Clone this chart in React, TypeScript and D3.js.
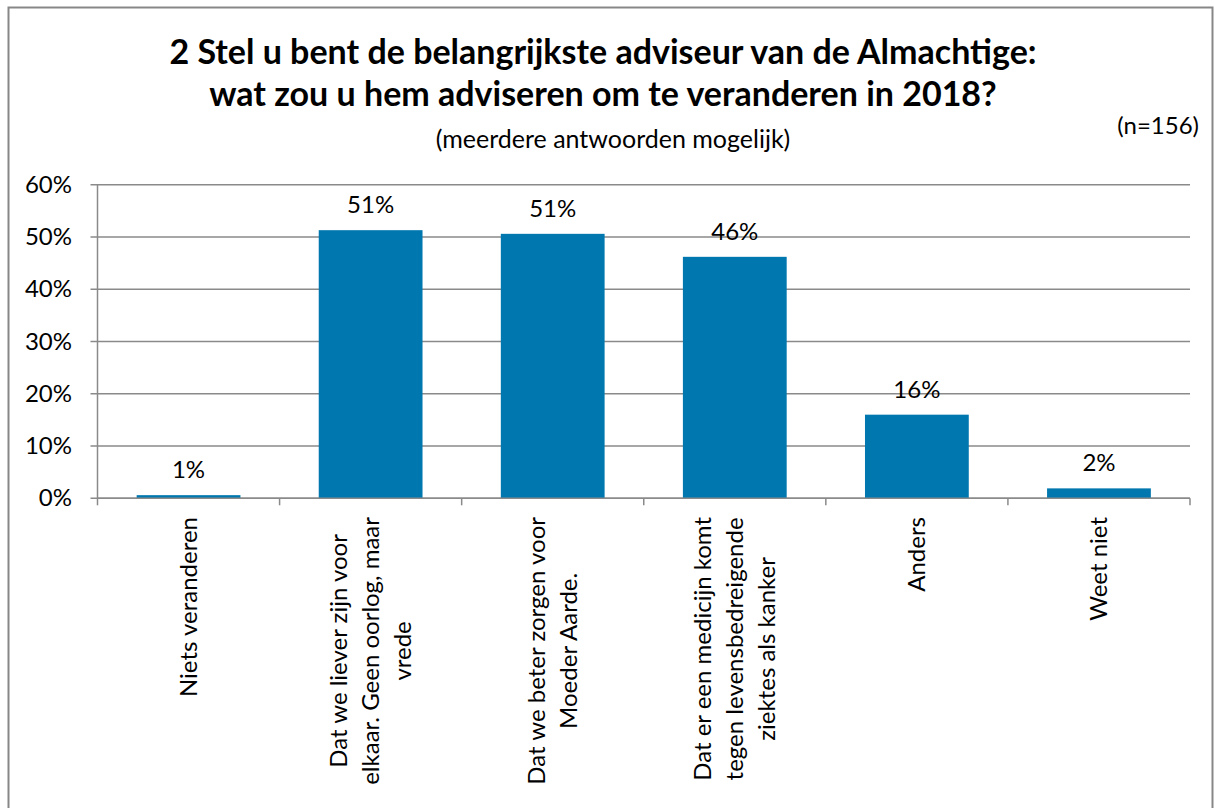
import React, { useEffect, useRef } from "react";
import * as d3 from "d3";

const titleLines = [
  "2 Stel u bent de belangrijkste adviseur van de Almachtige:",
  "wat zou u hem adviseren om te veranderen in 2018?",
];
const subtitle = "(meerdere antwoorden mogelijk)";
const sampleNote = "(n=156)";

const categories = [
  ["Niets veranderen"],
  ["Dat we liever zijn voor", "elkaar. Geen oorlog, maar", "vrede"],
  ["Dat we beter zorgen voor", "Moeder Aarde."],
  ["Dat er een medicijn komt", "tegen levensbedreigende", "ziektes als kanker"],
  ["Anders"],
  ["Weet niet"],
];
const values = [0.6, 51.3, 50.6, 46.2, 16.0, 1.9];
const valueLabels = ["1%", "51%", "51%", "46%", "16%", "2%"];
const yTicks = [0, 10, 20, 30, 40, 50, 60];

const W = 1215;
const H = 808;
const FONT = "Lato, 'Open Sans', sans-serif";

export default function App() {
  const ref = useRef<SVGSVGElement>(null);

  useEffect(() => {
    const svg = d3.select(ref.current);
    svg.selectAll("*").remove();

    const left = 97.5, right = 1190, top = 184.7, bottom = 498.3;
    const x = d3.scaleBand<number>().domain(d3.range(categories.length)).range([left, right]).paddingInner(0.43).paddingOuter(0.215);
    const xb = d3.scaleBand<number>().domain(d3.range(categories.length)).range([left, right]);
    const y = d3.scaleLinear().domain([0, 60]).range([bottom, top]);

    svg.append("rect").attr("x", 8.5).attr("y", 7.5).attr("width", 1204).attr("height", 900)
      .attr("fill", "white").attr("stroke", "#878787").attr("stroke-width", 2);

    const tg = svg.append("g").attr("font-family", FONT).attr("fill", "#000");
    tg.selectAll("text.title").data(titleLines).join("text")
      .attr("x", 603).attr("y", (_, i) => 64 + i * 42)
      .attr("text-anchor", "middle").attr("font-size", 34).attr("font-weight", "bold").text(d => d);
    tg.append("text").attr("x", 613).attr("y", 148).attr("text-anchor", "middle").attr("font-size", 25).text(subtitle);
    tg.append("text").attr("x", 1199).attr("y", 134).attr("text-anchor", "end").attr("font-size", 24).text(sampleNote);

    // gridlines
    svg.append("g").selectAll("line").data(yTicks).join("line")
      .attr("x1", left - 7).attr("x2", right).attr("y1", d => y(d)).attr("y2", d => y(d))
      .attr("stroke", "#8a8a8a").attr("stroke-width", 1.5);
    // y axis line
    svg.append("line").attr("x1", left).attr("x2", left).attr("y1", top).attr("y2", bottom)
      .attr("stroke", "#8a8a8a").attr("stroke-width", 1.5);
    // y labels
    svg.append("g").attr("font-family", FONT).attr("font-size", 24).selectAll("text").data(yTicks).join("text")
      .attr("x", 72).attr("y", d => y(d) + 8).attr("text-anchor", "end").text(d => d + "%");

    // bars
    svg.append("g").selectAll("rect").data(values).join("rect")
      .attr("x", (_, i) => x(i)!).attr("width", x.bandwidth())
      .attr("y", d => y(d)).attr("height", d => bottom - y(d)).attr("fill", "#0077AF");

    // x axis
    svg.append("line").attr("x1", left).attr("x2", right).attr("y1", bottom).attr("y2", bottom)
      .attr("stroke", "#8a8a8a").attr("stroke-width", 1.5);
    const bounds = d3.range(categories.length + 1).map(i => left + i * xb.step());
    svg.append("g").selectAll("line").data(bounds).join("line")
      .attr("x1", d => d).attr("x2", d => d).attr("y1", bottom).attr("y2", bottom + 7)
      .attr("stroke", "#8a8a8a").attr("stroke-width", 1.5);

    // value labels
    svg.append("g").attr("font-family", FONT).attr("font-size", 24).selectAll("text").data(values).join("text")
      .attr("x", (_, i) => x(i)! + x.bandwidth() / 2).attr("y", d => y(d) - 17)
      .attr("text-anchor", "middle").text((_, i) => valueLabels[i]);

    // category labels
    const lh = 32;
    categories.forEach((lines, i) => {
      const cx = xb(i)! + xb.bandwidth() / 2;
      const g = svg.append("g").attr("font-family", FONT).attr("font-size", 24);
      const texts = g.selectAll("text").data(lines).join("text").text(d => d).attr("text-anchor", "middle");
      let maxLen = 0;
      texts.each(function () { maxLen = Math.max(maxLen, (this as SVGTextElement).getComputedTextLength()); });
      const cy = 517 + maxLen / 2;
      const n = lines.length;
      texts.attr("transform", (_, j) => {
        const lx = cx + (j - (n - 1) / 2) * lh + 8.5;
        return `translate(${lx},${cy}) rotate(-90)`;
      });
    });
  }, []);

  return (
    <svg ref={ref} width={W} height={H} style={{ position: "absolute", left: 0, top: 0 }} />
  );
}
